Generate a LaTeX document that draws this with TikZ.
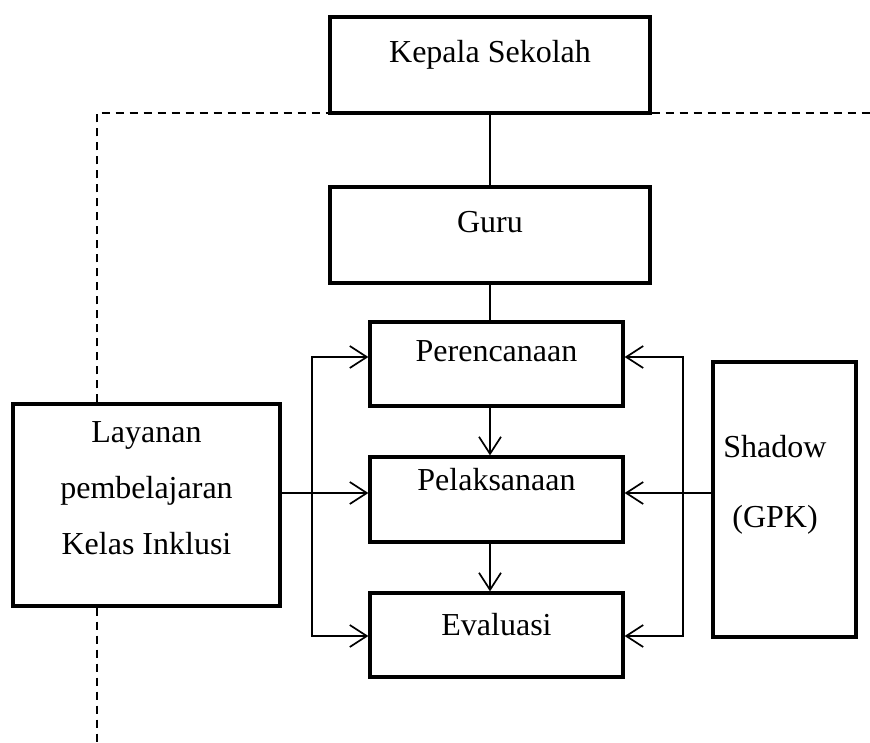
\documentclass[tikz,border=0pt]{standalone}
\usepackage{fontspec}
\setmainfont{Liberation Serif}
\usetikzlibrary{positioning, arrows.meta}

\begin{document}
\begin{tikzpicture}[
  x=1pt, y=-1pt,
  node distance=47.7pt,
  panel/.style={draw, line width=3.3pt, minimum width=253pt, minimum height=84pt, inner sep=2pt, align=center, font=\fontsize{32pt}{38pt}\selectfont},
  stage/.style={panel, text height=22pt, text depth=28pt},
  link/.style={line width=1.7pt},
  arr/.style={link, -{Straight Barb[length=17pt, width=22pt]}},
  biarr/.style={link, {Straight Barb[length=17pt, width=22pt]}-{Straight Barb[length=17pt, width=22pt]}},
  dashline/.style={line width=2.2pt, dash pattern=on 8.5pt off 5.5pt}
]
  \useasboundingbox (0,0) rectangle (870,742);

  % middle column
  \node[stage, minimum width=320pt, minimum height=96pt] (kepala) at (490,65) {Kepala Sekolah};
  \node[stage, minimum width=320pt, minimum height=96pt, below=70.7pt of kepala] (guru) {Guru};
  \node[stage, text depth=27pt, below=35.7pt of guru, xshift=6.5pt] (peren) {Perencanaan};
  \node[stage, minimum height=85pt, text depth=41pt, below=of peren] (pelak) {Pelaksanaan};
  \node[stage, text depth=22pt, below=of pelak] (eval) {Evaluasi};

  % side boxes
  \node[panel, minimum width=267pt, minimum height=202pt, font=\fontsize{32pt}{56pt}\selectfont] (layanan) at (146.5,505)
    {Layanan\\pembelajaran\\Kelas Inklusi\rule[-33pt]{0pt}{0pt}};
  \node[panel, minimum width=143pt, minimum height=275pt] (shadow) at (784.5,499.5) {};
  \node[font=\fontsize{32pt}{70pt}\selectfont, align=center, inner sep=0pt] (gpk) at (775,485) {Shadow\\(GPK)};

  \coordinate (lt) at (312,357);
  \coordinate (lmid) at (312,493);
  \coordinate (lb) at (312,636);
  \coordinate (rt) at (683,357);
  \coordinate (rmid) at (683,493);
  \coordinate (rb) at (683,636);
  \coordinate (corner) at (97,113);
  \coordinate (dashend) at (870,113);
  \coordinate (dashfoot) at (97,742);

  % connectors
  \draw[link] (kepala.south) -- (guru.north);
  \draw[link] (guru.south) -- (guru.south |- peren.north);
  \draw[arr] (peren.south -| guru.south) -- (pelak.north -| guru.south);
  \draw[arr] (pelak.south -| guru.south) -- (eval.north -| guru.south);
  \draw[arr] (layanan.east |- lmid) -- (pelak.west |- lmid);
  \draw[arr] (shadow.west |- rmid) -- (pelak.east |- rmid);
  \draw[biarr] (peren.west |- lt) -- (lt) -- (lb) -- (eval.west |- lb);
  \draw[biarr] (peren.east |- rt) -- (rt) -- (rb) -- (eval.east |- rb);

  % dashed frame
  \draw[dashline] (layanan.north -| corner) -- (corner) -- (corner -| kepala.west);
  \draw[dashline] (corner -| kepala.east) -- (dashend);
  \draw[dashline] (layanan.south -| corner) -- (dashfoot);
\end{tikzpicture}
\end{document}
